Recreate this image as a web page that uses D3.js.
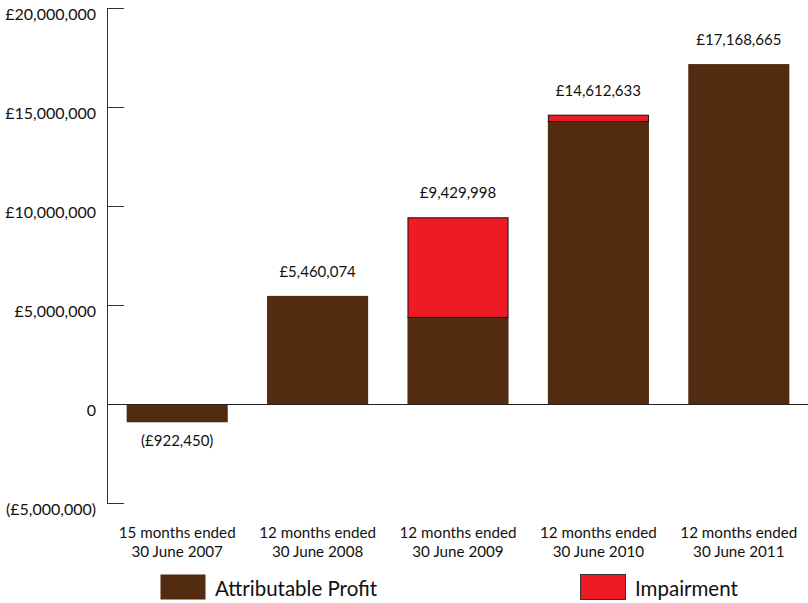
<!DOCTYPE html>
<html>
<head>
<meta charset="utf-8">
<script src="https://cdn.jsdelivr.net/npm/d3@7"></script>
<style>
  html, body { margin: 0; padding: 0; background: #fff; }
  svg text { font-family: "Lato", "Open Sans", sans-serif; fill: #111; }
</style>
</head>
<body>
<svg id="chart" width="808" height="603"></svg>
<script>
// Period labels (two lines each)
const periods = [
  ["15 months ended", "30 June 2007"],
  ["12 months ended", "30 June 2008"],
  ["12 months ended", "30 June 2009"],
  ["12 months ended", "30 June 2010"],
  ["12 months ended", "30 June 2011"]
];
// Attributable profit part of each bar
const profit = [-922450, 5460074, 4400000, 14290000, 17168665];
// Impairment part stacked on top
const impairment = [0, 0, 5029998, 322633, 0];
// Totals printed above/below each bar
const totals = [-922450, 5460074, 9429998, 14612633, 17168665];
const totalLabels = ["(£922,450)", "£5,460,074", "£9,429,998", "£14,612,633", "£17,168,665"];
// Y axis ticks
const yTicks = [20000000, 15000000, 10000000, 5000000, 0, -5000000];
const yTickLabels = ["£20,000,000", "£15,000,000", "£10,000,000", "£5,000,000", "0", "(£5,000,000)"];

const brown = "#532b11";
const red = "#ed1c24";

const svg = d3.select("#chart");

const y = d3.scaleLinear().domain([-5000000, 20000000]).range([503, 8]);
const x = d3.scaleBand().domain(d3.range(periods.length))
  .range([107, 809]).paddingInner(0.28).paddingOuter(0.14);

// Y axis line and ticks
svg.append("line")
  .attr("x1", 107.5).attr("x2", 107.5)
  .attr("y1", y(20000000)).attr("y2", y(-5000000))
  .attr("stroke", "#333").attr("stroke-width", 1);

svg.selectAll(".ytick").data(yTicks).enter().append("line")
  .attr("x1", 107).attr("x2", 124)
  .attr("y1", d => Math.round(y(d)) + 0.5).attr("y2", d => Math.round(y(d)) + 0.5)
  .attr("stroke", "#333").attr("stroke-width", 1);

svg.selectAll(".ylab").data(yTicks).enter().append("text")
  .attr("x", 96).attr("y", d => y(d) + 12)
  .attr("text-anchor", "end")
  .attr("font-size", 16)
  .text((d, i) => yTickLabels[i]);

// Profit bars
svg.selectAll(".profit").data(profit).enter().append("rect")
  .attr("x", (d, i) => x(i))
  .attr("width", x.bandwidth())
  .attr("y", d => y(Math.max(0, d)))
  .attr("height", d => Math.abs(y(d) - y(0)))
  .attr("fill", brown);

// Impairment segments stacked on the profit bars
const impData = impairment.map((v, i) => ({ i, v })).filter(d => d.v > 0);
svg.selectAll(".imp").data(impData).enter().append("rect")
  .attr("x", d => x(d.i) + 0.5)
  .attr("width", x.bandwidth() - 1)
  .attr("y", d => y(profit[d.i] + d.v) + 0.5)
  .attr("height", d => y(profit[d.i]) - y(profit[d.i] + d.v))
  .attr("fill", red)
  .attr("stroke", "#111").attr("stroke-width", 1);

// Zero line
svg.append("line")
  .attr("x1", 107).attr("x2", 808)
  .attr("y1", Math.round(y(0)) + 0.5).attr("y2", Math.round(y(0)) + 0.5)
  .attr("stroke", "#222").attr("stroke-width", 1);

// Total labels
svg.selectAll(".tot").data(totals).enter().append("text")
  .attr("x", (d, i) => x(i) + x.bandwidth() / 2)
  .attr("y", d => d >= 0 ? y(d) - 19 : y(d) + 24)
  .attr("text-anchor", "middle")
  .attr("font-size", 15)
  .text((d, i) => totalLabels[i]);

// Period labels
const pl = svg.selectAll(".per").data(periods).enter().append("text")
  .attr("text-anchor", "middle")
  .attr("font-size", 15.2);
pl.append("tspan")
  .attr("x", (d, i) => x(i) + x.bandwidth() / 2).attr("y", 538)
  .text(d => d[0]);
pl.append("tspan")
  .attr("x", (d, i) => x(i) + x.bandwidth() / 2).attr("y", 557)
  .text(d => d[1]);

// Legend
const legend = [
  { name: "Attributable Profit", color: brown, stroke: "none", x: 160 },
  { name: "Impairment", color: red, stroke: "#333", x: 580 }
];
const lg = svg.selectAll(".lg").data(legend).enter().append("g")
  .attr("transform", d => `translate(${d.x},574)`);
lg.append("rect")
  .attr("x", 0.5).attr("y", 0.5).attr("width", 45).attr("height", 25)
  .attr("fill", d => d.color).attr("stroke", d => d.stroke);
lg.append("text")
  .attr("x", 55).attr("y", 22)
  .attr("font-size", 20.5)
  .text(d => d.name);
</script>
</body>
</html>
